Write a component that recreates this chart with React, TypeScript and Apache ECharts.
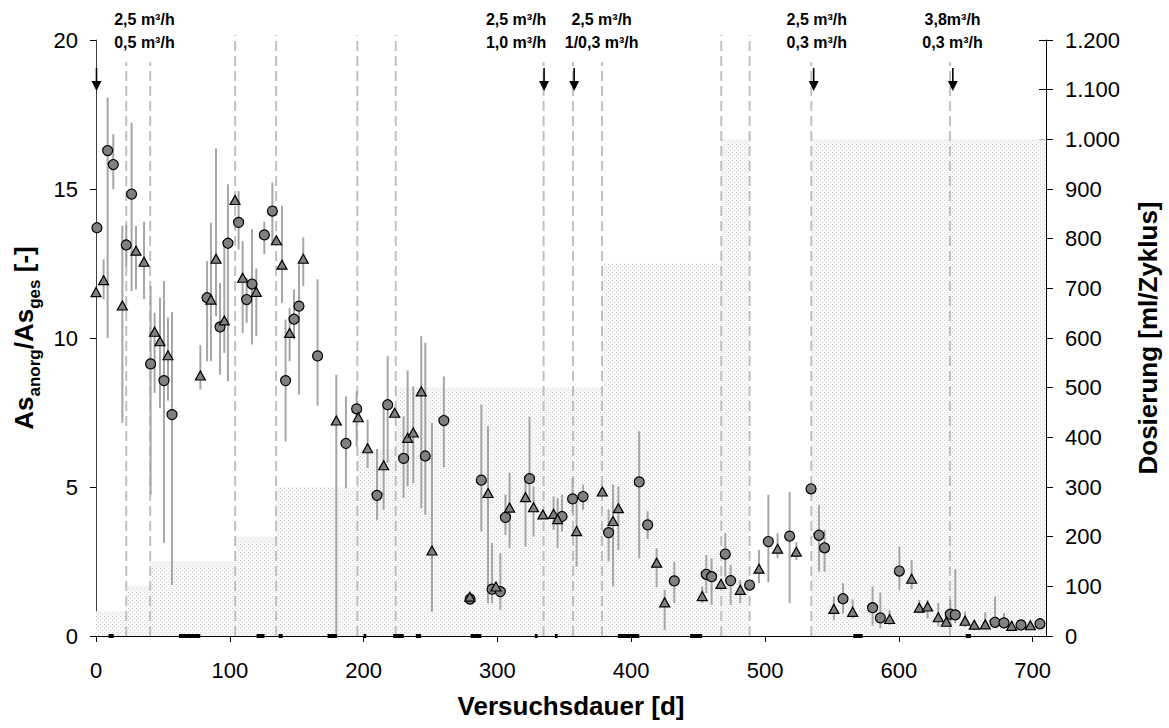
import React, { useEffect, useRef } from 'react';
import * as echarts from 'echarts';

const FONT = "'Liberation Sans', Arial, sans-serif";

// x-axis ticks (days)
const xTicks = [0, 100, 200, 300, 400, 500, 600, 700];

// dosing steps [ml/Zyklus]: value holds from day until next day
const doseDays = [0, 22.6, 40.5, 104, 134.6, 195.3, 224, 378.2, 467.3, 488.5, 534.6, 710];
const doseValues = [50, 100, 150, 200, 300, 375, 500, 750, 1000, 0, 1000, 1000];

// vertical dashed event lines: [day, top value]
const eventLines = [
  [22.6, 19.26], [40.5, 19.26], [104, 20.17], [134.6, 20.17], [195.3, 20.17], [224, 20.17],
  [334.5, 19.26], [356.5, 19.26], [378.2, 19.26], [467.3, 20.17], [488.5, 20.17],
  [534.6, 19.26], [638.3, 19.26],
];

// arrows (days)
const arrowDays = [0, 334.5, 357, 536, 640];

// flow annotations
const flowLabelDays = [36.2, 314, 377.9, 538.7, 640.2];
const flowLabelTop = ['2,5 m³/h', '2,5 m³/h', '2,5 m³/h', '2,5 m³/h', '3,8m³/h'];
const flowLabelBottom = ['0,5 m³/h', '1,0 m³/h', '1/0,3 m³/h', '0,3 m³/h', '0,3 m³/h'];

// black marks on the x axis (day ranges)
const zeroRanges = [
  [9.4, 13.2], [62, 78], [120, 126], [136.5, 139.5], [173, 180], [200, 202], [222, 230],
  [239, 243], [280, 288], [328, 330], [343, 345], [390, 406], [444, 453], [566, 573], [650, 654],
];

// circles: [day, value, low, high]
const circles = [
  [0.7, 13.7, 13.7, 13.7], [8.7, 16.29, 10.0, 18.07], [12.9, 15.82, 14.99, 16.84],
  [22.6, 13.12, 12.4, 13.8], [26.6, 14.83, 11.57, 17.23], [40.8, 9.13, 4.74, 11.74],
  [50.8, 8.57, 3.13, 11.91], [56.8, 7.43, 1.71, 10.87], [83, 11.35, 9.22, 12.58],
  [92.7, 10.37, 8.77, 11.85], [98.6, 13.18, 8.55, 15.16], [106.6, 13.88, 12.97, 14.93],
  [112.6, 11.29, 10.51, 12.02], [116.6, 11.81, 9.78, 13.65], [125.8, 13.46, 12.81, 13.9],
  [131.8, 14.26, 13.19, 15.22], [141.7, 8.57, 6.53, 10.62], [148, 10.63, 9.95, 11.63],
  [151.7, 11.07, 8.1, 12.47], [165.6, 9.4, 7.73, 11.97], [186.8, 6.46, 4.96, 8.04],
  [194.8, 7.62, 6.36, 8.21], [210, 4.72, 3.9, 6.28], [218, 7.76, 5.81, 9.39],
  [229.9, 5.96, 4.63, 7.37], [246.1, 6.04, 4.07, 9.84], [260, 7.23, 5.66, 8.71],
  [279.6, 1.24, 1.15, 1.35], [288, 5.23, 3.51, 7.76], [296, 1.57, 1.1, 3.12],
  [302.2, 1.49, 0.87, 2.78], [306, 3.98, 3.39, 4.74], [324, 5.28, 4.6, 7.36],
  [348.3, 4.01, 3.51, 4.74], [356.2, 4.6, 4.12, 5.3], [364, 4.68, 4.24, 5.08],
  [383.1, 3.47, 2.5, 4.24], [406, 5.17, 2.61, 6.87], [412.3, 3.73, 3.25, 4.18],
  [432.2, 1.85, 1.1, 2.5], [456.1, 2.07, 1.44, 2.72], [460.1, 1.99, 1.04, 2.61],
  [470.3, 2.75, 1.99, 3.45], [474.3, 1.86, 1.04, 2.39], [488.5, 1.71, 1.71, 1.71],
  [502.5, 3.17, 1.8, 4.74], [518.4, 3.35, 1.1, 4.83], [534.4, 4.94, 4.94, 4.94],
  [540.3, 3.38, 2.16, 4.4], [544.5, 2.96, 2.16, 3.56], [558.3, 1.25, 0.76, 1.77],
  [580.4, 0.95, 0.34, 1.66], [586.2, 0.61, 0.26, 1.46], [600.4, 2.18, 1.55, 3.0],
  [638.5, 0.73, 0.31, 1.21], [642.2, 0.71, 0.43, 2.24], [671.9, 0.46, 0.28, 1.32],
  [678.6, 0.44, 0.28, 0.76], [691.3, 0.37, 0.37, 0.37], [705.5, 0.41, 0.41, 0.41],
];

// triangles: [day, value, low, high]
const triangles = [
  [0, 11.54, 11.54, 11.54], [5.7, 11.94, 11.29, 12.64], [19.7, 11.09, 7.15, 13.76],
  [29.9, 12.93, 11.63, 13.76], [35.9, 12.56, 11.3, 13.9], [43.8, 10.21, 8.16, 10.85],
  [47.8, 9.89, 7.65, 11.35], [53.8, 9.42, 7.9, 10.68], [78, 8.74, 8.27, 9.76],
  [85.9, 11.29, 9.22, 13.87], [89.7, 12.66, 10.73, 16.36], [95.9, 10.59, 9.5, 13.25],
  [103.9, 14.63, 14.63, 14.63], [109.6, 12.02, 10.17, 13.25], [119.8, 11.55, 10.06, 12.33],
  [134.8, 13.28, 13.28, 13.28], [139, 12.46, 11.18, 14.43], [144.7, 10.17, 9.22, 11.01],
  [154.9, 12.66, 11.74, 13.37], [179.6, 7.23, 0, 8.77], [196, 7.34, 7.34, 7.34],
  [203, 6.3, 5.64, 7.26], [215, 5.73, 4.24, 7.76], [223.2, 7.49, 7.49, 7.49],
  [232.9, 6.65, 5.02, 8.91], [237.1, 6.83, 5.13, 8.38], [243.1, 8.21, 4.29, 10.06],
  [251.1, 2.87, 0.82, 7.15], [279.4, 1.32, 1.32, 1.32], [293, 4.8, 1.1, 7.04],
  [298.9, 1.66, 1.66, 1.66], [309.1, 4.31, 2.95, 5.48], [321, 4.66, 3.0, 5.35],
  [327, 4.32, 3.34, 5.02], [334, 4.08, 4.08, 4.08], [342, 4.1, 3.56, 4.68],
  [345, 3.92, 2.95, 4.63], [359.2, 3.52, 2.33, 4.46], [378.4, 4.85, 4.85, 4.85],
  [386.4, 3.86, 1.66, 5.08], [390.4, 4.29, 2.89, 5.02], [419, 2.46, 1.64, 2.95],
  [425, 1.13, 0.2, 1.55], [453.1, 1.34, 1.1, 1.66], [467.1, 1.75, 1.75, 1.75],
  [481.5, 1.55, 1.1, 1.88], [495.5, 2.26, 1.77, 2.89], [509.4, 2.93, 2.61, 3.45],
  [523.4, 2.83, 2.55, 3.15], [551.5, 0.91, 0.54, 1.32], [565.5, 0.81, 0.59, 1.23],
  [593.1, 0.57, 0.37, 0.87], [609.6, 1.92, 1.57, 2.55], [615.3, 0.95, 0.76, 1.21],
  [621.5, 0.99, 0.59, 1.21], [629.5, 0.63, 0.31, 1.1], [635.5, 0.48, 0.31, 0.87],
  [649.5, 0.51, 0.31, 0.82], [656.4, 0.38, 0.38, 0.38], [664.6, 0.39, 0.3, 0.8],
  [684.3, 0.34, 0.34, 0.34], [698.3, 0.36, 0.36, 0.36],
];

function makePattern() {
  const c = document.createElement('canvas');
  c.width = 4;
  c.height = 4;
  const ctx = c.getContext('2d')!;
  ctx.fillStyle = '#f8f8f8';
  ctx.fillRect(0, 0, 4, 4);
  ctx.fillStyle = '#d2d2d2';
  ctx.fillRect(0, 0, 1, 1);
  ctx.fillRect(2, 2, 1, 1);
  return c;
}

function errorBarSeries(data: number[][]) {
  return {
    type: 'custom',
    xAxisIndex: 0,
    yAxisIndex: 0,
    z: 3,
    silent: true,
    data: data.map((d) => [d[0], d[2], d[3]]),
    renderItem: (params: any, api: any) => {
      const lo = api.coord([api.value(0), api.value(1)]);
      const hi = api.coord([api.value(0), api.value(2)]);
      return {
        type: 'line',
        shape: { x1: lo[0], y1: lo[1], x2: hi[0], y2: hi[1] },
        style: { stroke: '#a6a6a6', lineWidth: 2 },
      };
    },
  };
}

export default function App() {
  const ref = useRef<HTMLDivElement>(null);
  useEffect(() => {
    const chart = echarts.init(ref.current!, null, { renderer: 'svg' });
    const pattern = makePattern();
    const axisFont = { fontFamily: FONT, fontSize: 22, color: '#000' };
    const option: any = {
      animation: false,
      backgroundColor: '#fff',
      grid: { left: 96, right: 123, top: 40, bottom: 92 },
      xAxis: {
        type: 'value',
        min: 0,
        max: 710,
        interval: 100,
        axisLine: { lineStyle: { color: '#000', width: 1 } },
        axisTick: { length: 6, lineStyle: { color: '#000' }, customValues: xTicks },
        axisLabel: { ...axisFont, margin: 23, customValues: xTicks },
        splitLine: { show: false },
        name: 'Versuchsdauer [d]',
        nameLocation: 'middle',
        nameGap: 57,
        nameTextStyle: { fontFamily: FONT, fontSize: 26, fontWeight: 'bold', color: '#000' },
      },
      yAxis: [
        {
          type: 'value',
          position: 'left',
          min: 0,
          max: 20,
          interval: 5,
          axisLine: { show: true, lineStyle: { color: '#404040', width: 1 } },
          axisTick: { show: true, length: 6, lineStyle: { color: '#000' } },
          axisLabel: { ...axisFont, margin: 18 },
          splitLine: { show: false },
          name: '{a|As}{s|anorg}{a|/As}{s|ges}{a| [-]}',
          nameLocation: 'middle',
          nameRotate: 90,
          nameGap: 53,
          nameTextStyle: {
            fontFamily: FONT,
            fontSize: 26,
            fontWeight: 'bold',
            color: '#000',
            rich: {
              a: { fontFamily: FONT, fontSize: 26, fontWeight: 'bold', color: '#000', verticalAlign: 'bottom', padding: [0, 0, 6, 0] },
              s: { fontFamily: FONT, fontSize: 17, fontWeight: 'bold', color: '#000', verticalAlign: 'bottom' },
            },
          },
        },
        {
          type: 'value',
          position: 'right',
          min: 0,
          max: 1200,
          interval: 100,
          axisLine: { show: true, lineStyle: { color: '#000', width: 1 } },
          axisTick: { show: true, length: 7, lineStyle: { color: '#000' } },
          axisLabel: {
            ...axisFont,
            margin: 19,
            formatter: (v: number) =>
              v >= 1000 ? Math.floor(v / 1000) + '.' + String(v % 1000).padStart(3, '0') : String(v),
          },
          splitLine: { show: false },
          name: 'Dosierung [ml/Zyklus]',
          nameLocation: 'middle',
          nameRotate: 90,
          nameGap: 89,
          nameTextStyle: { fontFamily: FONT, fontSize: 26, fontWeight: 'bold', color: '#000' },
        },
        {
          type: 'value',
          position: 'right',
          min: 0,
          max: 1200,
          interval: 100,
          axisLine: { show: false },
          axisTick: { show: true, inside: true, length: 7, lineStyle: { color: '#000' } },
          axisLabel: { show: false },
          splitLine: { show: false },
        },
      ],
      series: [
        {
          type: 'line',
          yAxisIndex: 1,
          step: 'end',
          symbol: 'none',
          silent: true,
          z: 1,
          lineStyle: { width: 0, opacity: 0 },
          areaStyle: { color: { image: pattern, repeat: 'repeat' }, opacity: 1 },
          data: doseDays.map((d, i) => [d, doseValues[i]]),
        },
        {
          type: 'custom',
          z: 2,
          silent: true,
          data: eventLines,
          renderItem: (params: any, api: any) => {
            const b = api.coord([api.value(0), 0]);
            const t = api.coord([api.value(0), api.value(1)]);
            return {
              type: 'line',
              shape: { x1: b[0], y1: b[1], x2: t[0], y2: t[1] },
              style: { stroke: '#c0c0c0', lineWidth: 2, lineDash: [10, 5] },
            };
          },
        },
        errorBarSeries(circles),
        errorBarSeries(triangles),
        {
          type: 'custom',
          z: 3,
          silent: true,
          data: zeroRanges,
          renderItem: (params: any, api: any) => {
            const a = api.coord([api.value(0), 0]);
            const b = api.coord([api.value(1), 0]);
            return {
              type: 'rect',
              shape: { x: a[0], y: a[1] - 2, width: Math.max(b[0] - a[0], 2), height: 4 },
              style: { fill: '#000' },
            };
          },
        },
        {
          type: 'scatter',
          z: 4,
          symbol: 'circle',
          symbolSize: 10,
          itemStyle: { color: '#808080', borderColor: '#000', borderWidth: 1.2, opacity: 1 },
          data: circles.map((d) => [d[0], d[1]]),
        },
        {
          type: 'scatter',
          z: 4,
          symbol: 'triangle',
          symbolSize: [10, 9],
          itemStyle: { color: '#808080', borderColor: '#000', borderWidth: 1.2, opacity: 1 },
          data: triangles.map((d) => [d[0], d[1]]),
        },
        {
          type: 'custom',
          z: 5,
          silent: true,
          data: arrowDays.map((d) => [d, 20]),
          renderItem: (params: any, api: any) => {
            const p = api.coord([api.value(0), api.value(1)]);
            const x = p[0] + 0.5;
            const y = p[1];
            return {
              type: 'group',
              children: [
                { type: 'line', shape: { x1: x, y1: y + 28, x2: x, y2: y + 43 }, style: { stroke: '#000', lineWidth: 1.6 } },
                { type: 'polygon', shape: { points: [[x - 5, y + 41], [x + 5, y + 41], [x, y + 51]] }, style: { fill: '#000' } },
              ],
            };
          },
        },
        {
          type: 'custom',
          z: 5,
          silent: true,
          data: flowLabelDays.map((d) => [d, 20]),
          renderItem: (params: any, api: any) => {
            const p = api.coord([api.value(0), api.value(1)]);
            const i = params.dataIndex;
            const st = { fontFamily: FONT, fontSize: 16, fontWeight: 'bold', fill: '#000', align: 'center', verticalAlign: 'middle' };
            return {
              type: 'group',
              children: [
                { type: 'text', x: p[0], y: p[1] - 21, style: { ...st, text: flowLabelTop[i] } },
                { type: 'text', x: p[0], y: p[1] + 2, style: { ...st, text: flowLabelBottom[i] } },
              ],
            };
          },
        },
      ],
    };
    chart.setOption(option);
    return () => chart.dispose();
  }, []);
  return (
    <div
      ref={ref}
      style={{ position: 'fixed', left: 0, top: 0, width: 1169, height: 728, background: '#fff' }}
    />
  );
}
